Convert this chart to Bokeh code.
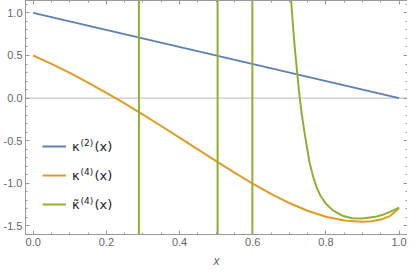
import numpy as np
from bokeh.plotting import figure
from bokeh.models import (Range1d, LinearAxis, FixedTicker, Span, Legend,
                          LegendItem, Label)
from bokeh.embed import file_html
from bokeh.resources import INLINE

# ---- data ----
k2_x = [0.0, 1.0]
k2_y = [1.0, 0.0]

k4_x = [0.0, 0.05, 0.1, 0.15, 0.2, 0.25, 0.3, 0.35, 0.4, 0.45, 0.5, 0.55, 0.6,
        0.65, 0.7, 0.75, 0.8, 0.85, 0.9, 0.925, 0.95, 0.975, 1.0]
k4_y = [0.5, 0.401, 0.295, 0.181, 0.062, -0.063, -0.193, -0.327, -0.464, -0.601,
        -0.739, -0.874, -1.004, -1.124, -1.231, -1.321, -1.391, -1.436, -1.451,
        -1.444, -1.425, -1.384, -1.292]

k4t_x = [0.704, 0.71, 0.716, 0.722, 0.728, 0.735, 0.744, 0.755, 0.765, 0.775,
         0.785, 0.8, 0.82, 0.845, 0.872, 0.9, 0.935, 0.953, 0.975, 1.0]
k4t_y = [1.2, 0.85, 0.54, 0.276, 0.02, -0.22, -0.47, -0.75, -0.92, -1.05,
         -1.145, -1.24, -1.32, -1.38, -1.41, -1.413, -1.393, -1.372, -1.335, -1.284]
k4t_asymptotes = [0.289, 0.504, 0.599]

x_ticks = [0.0, 0.2, 0.4, 0.6, 0.8, 1.0]
x_labels = ["0.0", "0.2", "0.4", "0.6", "0.8", "1.0"]
y_ticks = [-1.5, -1.0, -0.5, 0.0, 0.5, 1.0]
y_labels = ["-1.5", "-1.0", "-0.5", "0.0", "0.5", "1.0"]

sym = ["\u03ba", "\u03ba", "\u03ba\u0303"]
sup = ["(2)", "(4)", "(4)"]
arg = "(x)"
colors = ["#5E81B5", "#E19C24", "#8FB032"]

# ---- figure ----
p = figure(width=407, height=270, output_backend="svg", toolbar_location=None,
           x_range=Range1d(-0.021, 1.023), y_range=Range1d(-1.6, 1.145),
           x_axis_location=None, y_axis_location=None, min_border=0)
p.outline_line_color = None
p.xgrid.visible = False
p.ygrid.visible = False

frame_col = "#9a9a9a"
label_col = "#666666"
font = "Liberation Sans"

x_minor = [round(v, 3) for v in np.arange(0.0, 1.0001, 0.05)]
y_minor = [round(v, 3) for v in np.arange(-1.6, 1.1001, 0.1)]


def make_axis(ticks, minors, labs, show):
    ax = LinearAxis(ticker=FixedTicker(ticks=ticks, minor_ticks=minors))
    ax.major_label_overrides = {t: (l if show else "") for t, l in zip(ticks, labs)}
    ax.axis_line_color = frame_col
    ax.major_tick_line_color = frame_col
    ax.minor_tick_line_color = frame_col
    ax.major_tick_in = 4
    ax.major_tick_out = 0
    ax.minor_tick_in = 2
    ax.minor_tick_out = 0
    ax.major_label_text_font = font
    ax.major_label_text_font_size = "11px"
    ax.major_label_text_color = label_col
    ax.major_label_standoff = 3 if show else 0
    return ax


ax_b = make_axis(x_ticks, x_minor, x_labels, True)
ax_b.axis_label = "x"
ax_b.axis_label_text_font_style = "italic"
ax_b.axis_label_text_font = font
ax_b.axis_label_text_font_size = "12px"
ax_b.axis_label_text_color = label_col
ax_b.axis_label_standoff = 5
p.add_layout(ax_b, "below")
p.add_layout(make_axis(y_ticks, y_minor, y_labels, True), "left")
p.add_layout(make_axis(x_ticks, x_minor, x_labels, False), "above")
p.add_layout(make_axis(y_ticks, y_minor, y_labels, False), "right")

p.add_layout(Span(location=0, dimension="width", line_color="#bbbbbb",
                  line_width=1, level="underlay"))

r1 = p.line(k2_x, k2_y, line_color=colors[0], line_width=2)
r2 = p.line(k4_x, k4_y, line_color=colors[1], line_width=2)
r3 = p.line(k4t_x, k4t_y, line_color=colors[2], line_width=2)
for a in k4t_asymptotes:
    p.add_layout(Span(location=a, dimension="height", line_color=colors[2],
                      line_width=2, level="glyph"))

legend = Legend(items=[LegendItem(label=sym[i], renderers=[r])
                       for i, r in enumerate([r1, r2, r3])],
                location=(17, 20), padding=0, margin=0, spacing=9,
                glyph_width=24, glyph_height=20, label_height=20,
                label_standoff=6, border_line_color=None,
                background_fill_alpha=0,
                label_text_font="DejaVu Sans", label_text_font_size="13px",
                label_text_color="#222222")
p.add_layout(legend, "center")

row_centers = [88, 59, 30]
for i, yc in enumerate(row_centers):
    p.add_layout(Label(x=55, y=yc + 4, x_units="screen", y_units="screen",
                       text=sup[i], text_font="DejaVu Sans",
                       text_font_size="9px", text_color="#222222",
                       text_baseline="middle", text_align="left"))
    p.add_layout(Label(x=69, y=yc, x_units="screen", y_units="screen",
                       text=arg, text_font="DejaVu Sans",
                       text_font_size="13px", text_color="#222222",
                       text_baseline="middle", text_align="left"))

open("out.html", "w").write(file_html(p, INLINE))
